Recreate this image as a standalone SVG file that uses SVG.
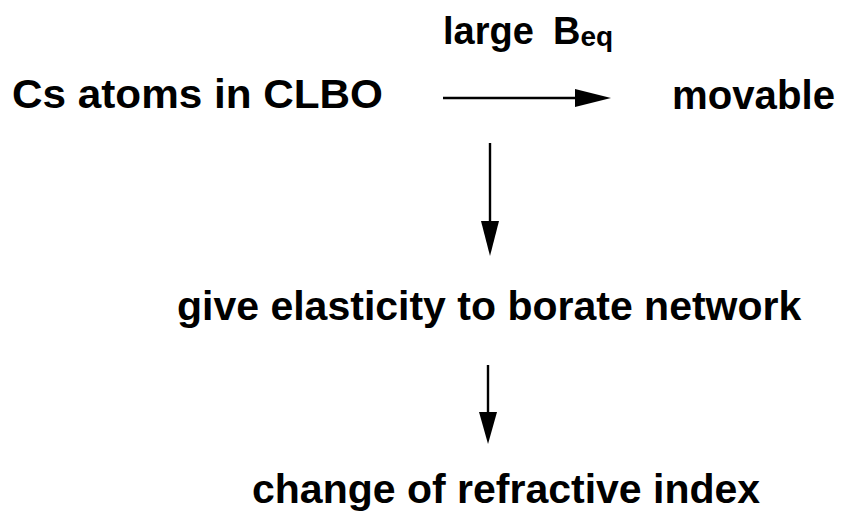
<svg xmlns="http://www.w3.org/2000/svg" width="842" height="512" viewBox="0 0 842 512">
<style>
.t{font-family:"Liberation Sans",Arial,Helvetica,sans-serif;font-weight:bold;fill:#000}
.ln{stroke:#000;stroke-width:2.4;fill:none}
.hd{fill:#000}
</style>
<rect width="842" height="512" fill="#fff"/>
<g id="cs"><text class="t" x="12" y="108" font-size="40" textLength="371" lengthAdjust="spacingAndGlyphs">Cs atoms in CLBO</text></g>
<g id="movable"><text class="t" x="672" y="109" font-size="40" textLength="163" lengthAdjust="spacingAndGlyphs">movable</text></g>
<g id="give"><text class="t" x="177" y="320" font-size="41">give elasticity to borate network</text></g>
<g id="change"><text class="t" x="252" y="503" font-size="41">change of refractive index</text></g>
<g id="label"><text class="t" x="443" y="44" font-size="38">large <tspan x="553">B</tspan><tspan font-size="28" dy="2">eq</tspan></text></g>
<g id="connectors">
<line class="ln" x1="443" y1="98" x2="580" y2="98"/>
<polygon class="hd" points="575,89 611,98 575,107"/>
<line class="ln" x1="490" y1="143" x2="490" y2="225"/>
<polygon class="hd" points="481,221 499,221 490,256"/>
<line class="ln" x1="488" y1="365" x2="488" y2="415"/>
<polygon class="hd" points="479,412 497,412 488,444"/>
</g>
</svg>
